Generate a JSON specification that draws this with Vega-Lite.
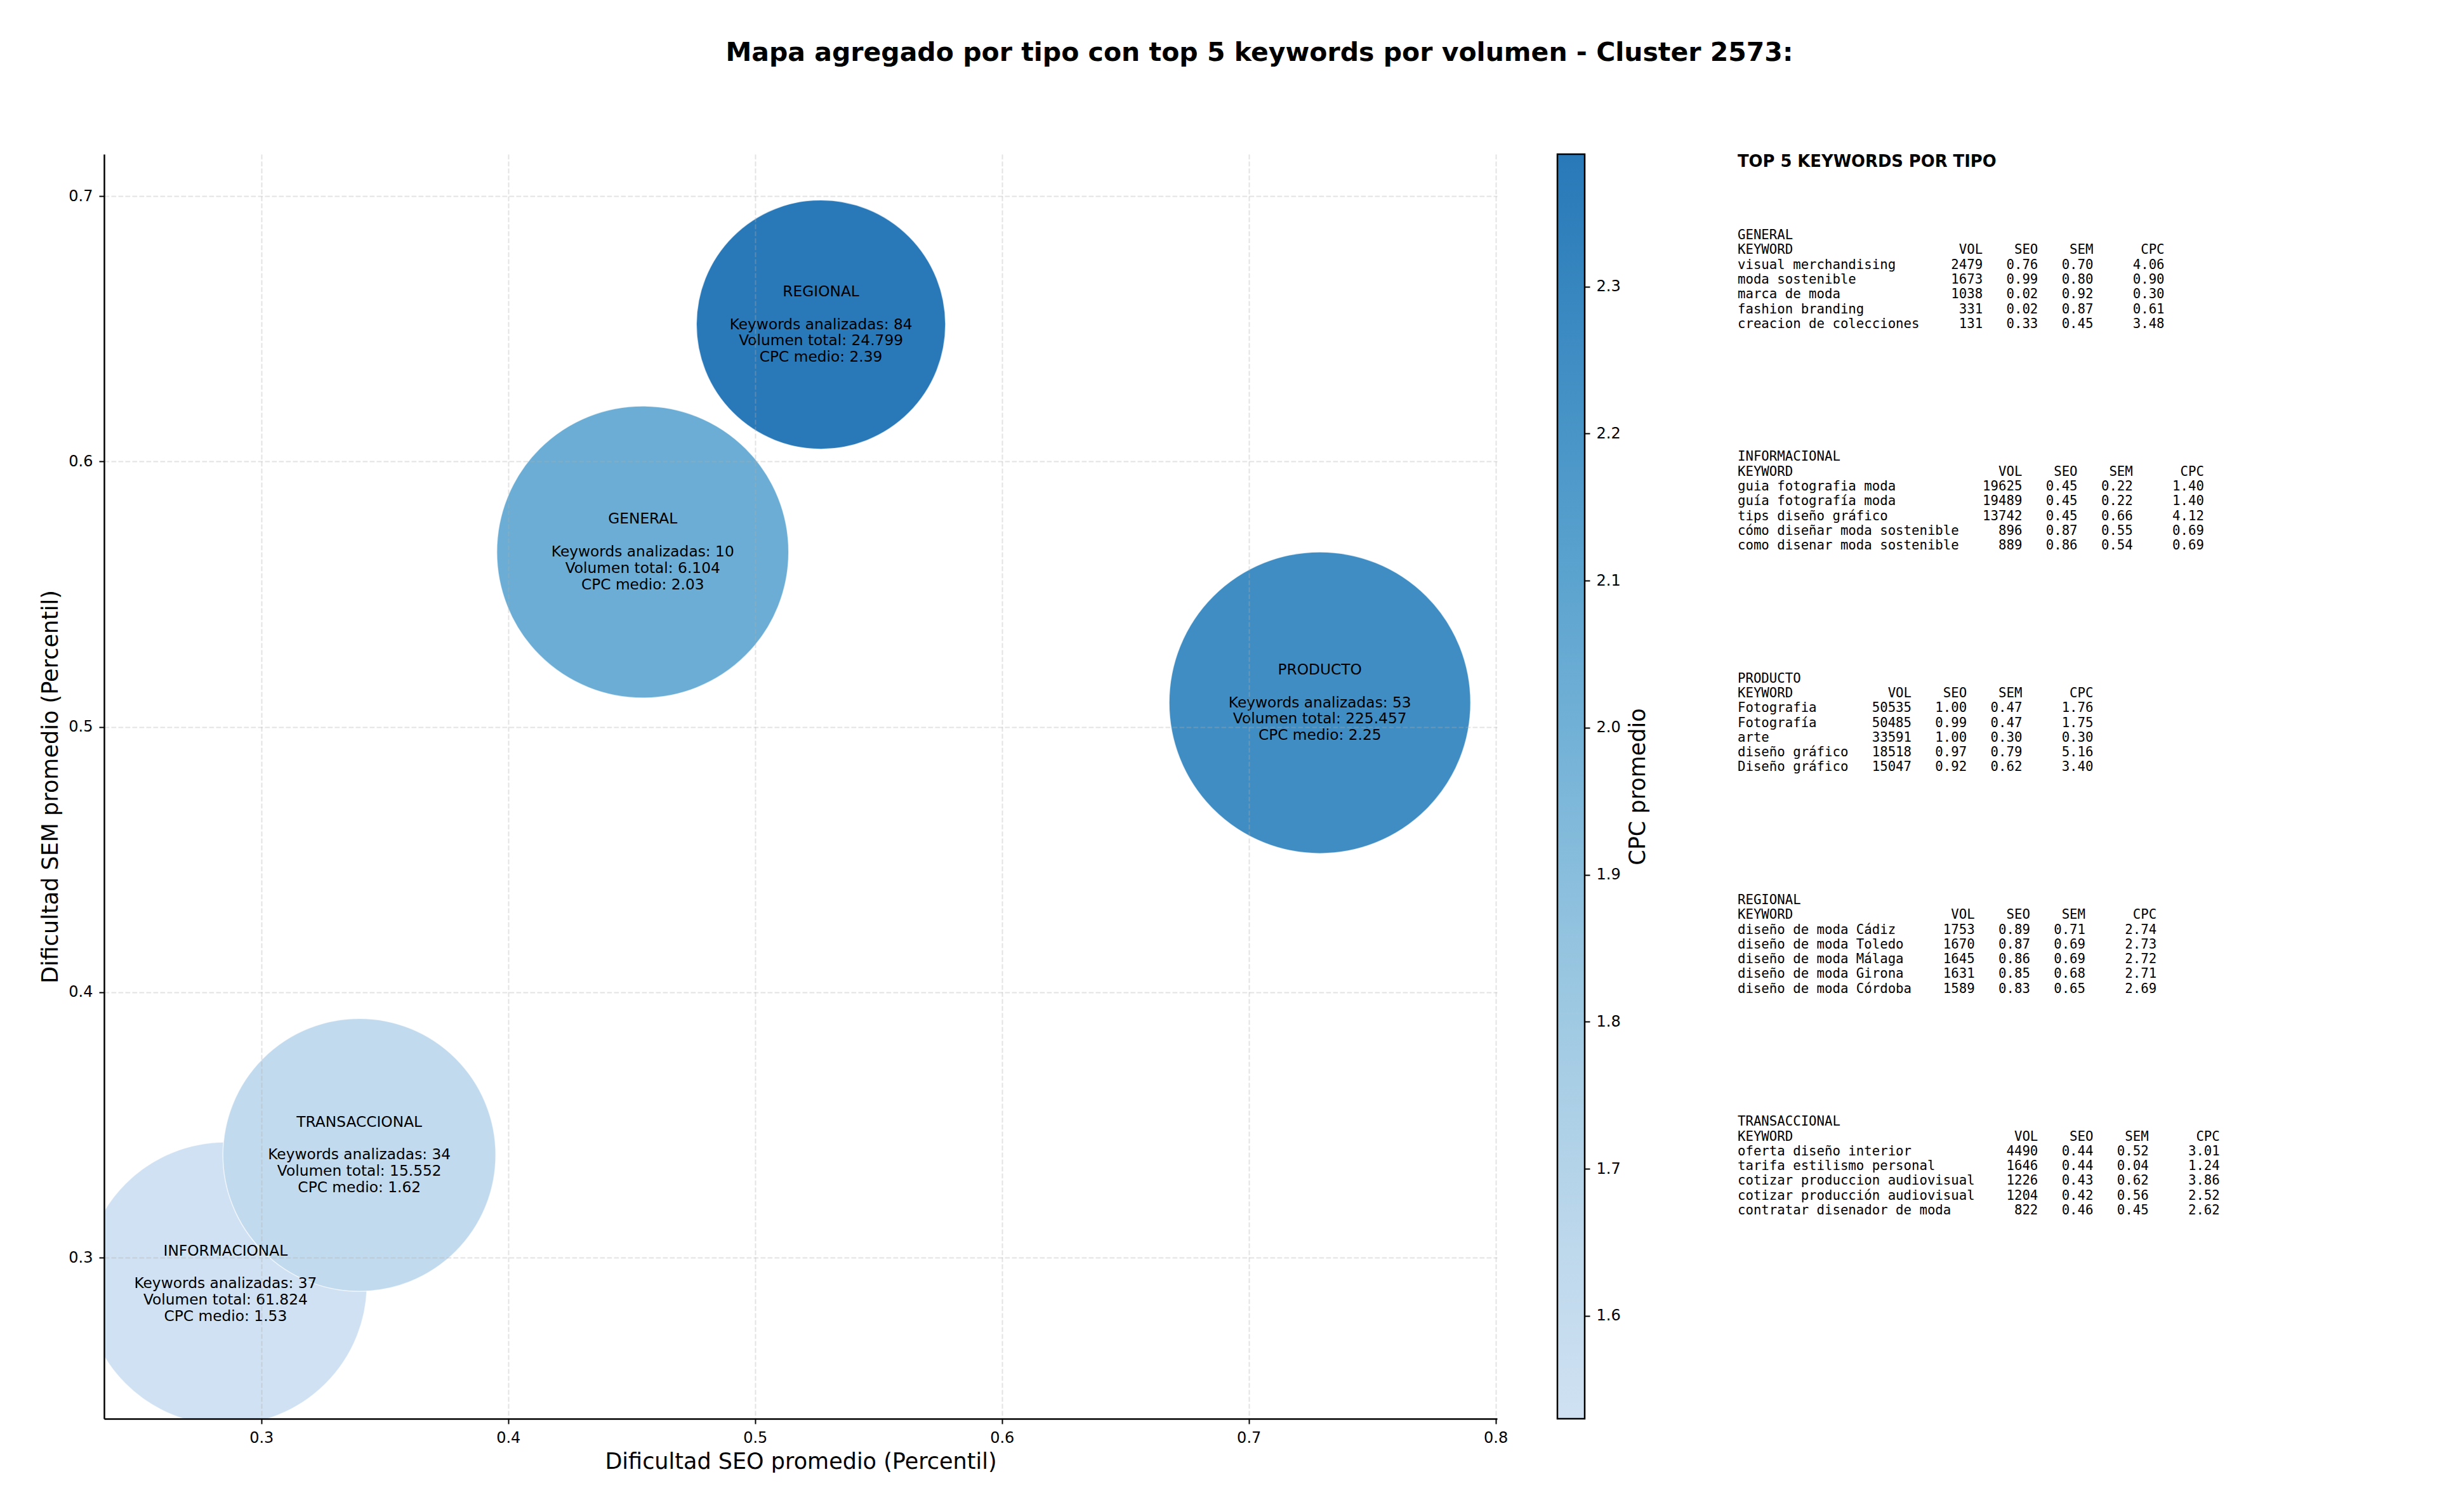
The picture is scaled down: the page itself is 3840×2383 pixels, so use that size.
{
  "$schema": "https://vega.github.io/schema/vega-lite/v6.json",
  "background": "white",
  "padding": {"left": 62, "top": 62, "right": 0, "bottom": 0},
  "config": {"view": {"stroke": null}, "font": "DejaVu Sans"},
  "title": {
    "text": "Mapa agregado por tipo con top 5 keywords por volumen - Cluster 2573:",
    "font": "DejaVu Sans", "fontSize": 41, "fontWeight": "bold", "color": "black",
    "anchor": "middle", "offset": 137, "dx": 184
  },
  "datasets": {
    "tipos": [
      {"tipo": "GENERAL", "seo": 0.4545, "sem": 0.5659, "cpc": 2.03, "keywords": 10, "volumen": 6104},
      {"tipo": "INFORMACIONAL", "seo": 0.2855, "sem": 0.2902, "cpc": 1.53, "keywords": 37, "volumen": 61824},
      {"tipo": "PRODUCTO", "seo": 0.7288, "sem": 0.5091, "cpc": 2.25, "keywords": 53, "volumen": 225457},
      {"tipo": "REGIONAL", "seo": 0.5267, "sem": 0.6516, "cpc": 2.39, "keywords": 84, "volumen": 24799},
      {"tipo": "TRANSACCIONAL", "seo": 0.3397, "sem": 0.3387, "cpc": 1.62, "keywords": 34, "volumen": 15552}
    ],
    "top5": [
      {"tipo": "GENERAL", "rank": 1, "keyword": "visual merchandising", "vol": 2479, "seo": 0.76, "sem": 0.70, "cpc": 4.06},
      {"tipo": "GENERAL", "rank": 2, "keyword": "moda sostenible", "vol": 1673, "seo": 0.99, "sem": 0.80, "cpc": 0.90},
      {"tipo": "GENERAL", "rank": 3, "keyword": "marca de moda", "vol": 1038, "seo": 0.02, "sem": 0.92, "cpc": 0.30},
      {"tipo": "GENERAL", "rank": 4, "keyword": "fashion branding", "vol": 331, "seo": 0.02, "sem": 0.87, "cpc": 0.61},
      {"tipo": "GENERAL", "rank": 5, "keyword": "creacion de colecciones", "vol": 131, "seo": 0.33, "sem": 0.45, "cpc": 3.48},
      {"tipo": "INFORMACIONAL", "rank": 1, "keyword": "guia fotografia moda", "vol": 19625, "seo": 0.45, "sem": 0.22, "cpc": 1.40},
      {"tipo": "INFORMACIONAL", "rank": 2, "keyword": "guía fotografía moda", "vol": 19489, "seo": 0.45, "sem": 0.22, "cpc": 1.40},
      {"tipo": "INFORMACIONAL", "rank": 3, "keyword": "tips diseño gráfico", "vol": 13742, "seo": 0.45, "sem": 0.66, "cpc": 4.12},
      {"tipo": "INFORMACIONAL", "rank": 4, "keyword": "cómo diseñar moda sostenible", "vol": 896, "seo": 0.87, "sem": 0.55, "cpc": 0.69},
      {"tipo": "INFORMACIONAL", "rank": 5, "keyword": "como disenar moda sostenible", "vol": 889, "seo": 0.86, "sem": 0.54, "cpc": 0.69},
      {"tipo": "PRODUCTO", "rank": 1, "keyword": "Fotografia", "vol": 50535, "seo": 1.00, "sem": 0.47, "cpc": 1.76},
      {"tipo": "PRODUCTO", "rank": 2, "keyword": "Fotografía", "vol": 50485, "seo": 0.99, "sem": 0.47, "cpc": 1.75},
      {"tipo": "PRODUCTO", "rank": 3, "keyword": "arte", "vol": 33591, "seo": 1.00, "sem": 0.30, "cpc": 0.30},
      {"tipo": "PRODUCTO", "rank": 4, "keyword": "diseño gráfico", "vol": 18518, "seo": 0.97, "sem": 0.79, "cpc": 5.16},
      {"tipo": "PRODUCTO", "rank": 5, "keyword": "Diseño gráfico", "vol": 15047, "seo": 0.92, "sem": 0.62, "cpc": 3.40},
      {"tipo": "REGIONAL", "rank": 1, "keyword": "diseño de moda Cádiz", "vol": 1753, "seo": 0.89, "sem": 0.71, "cpc": 2.74},
      {"tipo": "REGIONAL", "rank": 2, "keyword": "diseño de moda Toledo", "vol": 1670, "seo": 0.87, "sem": 0.69, "cpc": 2.73},
      {"tipo": "REGIONAL", "rank": 3, "keyword": "diseño de moda Málaga", "vol": 1645, "seo": 0.86, "sem": 0.69, "cpc": 2.72},
      {"tipo": "REGIONAL", "rank": 4, "keyword": "diseño de moda Girona", "vol": 1631, "seo": 0.85, "sem": 0.68, "cpc": 2.71},
      {"tipo": "REGIONAL", "rank": 5, "keyword": "diseño de moda Córdoba", "vol": 1589, "seo": 0.83, "sem": 0.65, "cpc": 2.69},
      {"tipo": "TRANSACCIONAL", "rank": 1, "keyword": "oferta diseño interior", "vol": 4490, "seo": 0.44, "sem": 0.52, "cpc": 3.01},
      {"tipo": "TRANSACCIONAL", "rank": 2, "keyword": "tarifa estilismo personal", "vol": 1646, "seo": 0.44, "sem": 0.04, "cpc": 1.24},
      {"tipo": "TRANSACCIONAL", "rank": 3, "keyword": "cotizar produccion audiovisual", "vol": 1226, "seo": 0.43, "sem": 0.62, "cpc": 3.86},
      {"tipo": "TRANSACCIONAL", "rank": 4, "keyword": "cotizar producción audiovisual", "vol": 1204, "seo": 0.42, "sem": 0.56, "cpc": 2.52},
      {"tipo": "TRANSACCIONAL", "rank": 5, "keyword": "contratar disenador de moda", "vol": 822, "seo": 0.46, "sem": 0.45, "cpc": 2.62}
    ]
  },
  "spacing": 139,
  "hconcat": [
    {
      "spacing": 76,
      "hconcat": [
        {
          "width": 2195,
          "height": 1993,
          "data": {"name": "tipos"},
          "transform": [
            {"calculate": "'Keywords analizadas: ' + datum.keywords + '\\nVolumen total: ' + replace(format(datum.volumen, ','), ',', '.') + '\\nCPC medio: ' + format(datum.cpc, '.2f')", "as": "etiqueta"}
          ],
          "encoding": {
            "x": {
              "field": "seo", "type": "quantitative",
              "scale": {"domain": [0.2363, 0.8006], "nice": false, "zero": false},
              "axis": {
                "title": "Dificultad SEO promedio (Percentil)", "values": [0.3, 0.4, 0.5, 0.6, 0.7, 0.8], "format": ".1f",
                "labelFontSize": 24, "labelColor": "black", "labelPadding": 10, "labelFont": "DejaVu Sans",
                "titleFontSize": 35, "titleFontWeight": "normal", "titleColor": "black", "titlePadding": 8, "titleFont": "DejaVu Sans",
                "domainColor": "black", "domainWidth": 2.5, "tickColor": "black", "tickWidth": 2, "tickSize": 8,
                "grid": true, "gridColor": "#b0b0b0", "gridOpacity": 0.35, "gridDash": [7.7, 3.3], "gridWidth": 2, "zindex": 1
              }
            },
            "y": {
              "field": "sem", "type": "quantitative",
              "scale": {"domain": [0.2393, 0.7158], "nice": false, "zero": false},
              "axis": {
                "title": "Dificultad SEM promedio (Percentil)", "values": [0.3, 0.4, 0.5, 0.6, 0.7], "format": ".1f",
                "labelFontSize": 24, "labelColor": "black", "labelPadding": 10, "labelFont": "DejaVu Sans",
                "titleFontSize": 35, "titleFontWeight": "normal", "titleColor": "black", "titlePadding": 10, "titleFont": "DejaVu Sans",
                "domainColor": "black", "domainWidth": 2.5, "tickColor": "black", "tickWidth": 2, "tickSize": 8,
                "grid": true, "gridColor": "#b0b0b0", "gridOpacity": 0.35, "gridDash": [7.7, 3.3], "gridWidth": 2, "zindex": 1
              }
            }
          },
          "layer": [
            {
              "mark": {"type": "point", "shape": "circle", "filled": true, "opacity": 1, "stroke": "white", "strokeWidth": 1.5, "strokeOpacity": 0.7, "clip": true},
              "encoding": {
                "color": {
                  "field": "cpc", "type": "quantitative",
                  "scale": {"domain": [1.53, 2.39], "nice": false, "zero": false, "scheme": {"name": "blues", "extent": [0, 0.75]}},
                  "legend": null
                },
                "size": {
                  "field": "tipo", "type": "nominal",
                  "scale": {"type": "ordinal", "domain": ["GENERAL", "INFORMACIONAL", "PRODUCTO", "REGIONAL", "TRANSACCIONAL"], "range": [211600, 198916, 225815, 154135, 184900]},
                  "legend": null
                }
              }
            },
            {
              "mark": {"type": "text", "font": "DejaVu Sans", "fontSize": 23.3, "align": "center", "baseline": "middle", "dy": -51.6, "color": "black"},
              "encoding": {"text": {"field": "tipo", "type": "nominal"}}
            },
            {
              "mark": {"type": "text", "font": "DejaVu Sans", "fontSize": 23.3, "lineHeight": 25.8, "lineBreak": "\n", "align": "center", "baseline": "middle", "color": "black"},
              "encoding": {"text": {"field": "etiqueta", "type": "nominal"}}
            }
          ]
        },
        {
          "width": 43,
          "height": 1993,
          "data": {"name": "tipos"},
          "mark": {
            "type": "rect", "stroke": "black", "strokeWidth": 2.5,
            "fill": {"gradient": "linear", "x1": 0, "y1": 1, "x2": 0, "y2": 0, "stops": [
              {"offset": 0, "color": "#cfe1f2"},
              {"offset": 0.1333, "color": "#bed8ec"},
              {"offset": 0.2667, "color": "#a8cee5"},
              {"offset": 0.4, "color": "#8fc1de"},
              {"offset": 0.5333, "color": "#74b2d7"},
              {"offset": 0.6667, "color": "#5ba3cf"},
              {"offset": 0.8, "color": "#4592c6"},
              {"offset": 0.9333, "color": "#3181bd"},
              {"offset": 1, "color": "#2978b8"}
            ]}
          },
          "encoding": {
            "x": {"datum": 0, "type": "quantitative", "scale": {"domain": [0, 1], "nice": false, "zero": false}, "axis": null},
            "x2": {"datum": 1},
            "y": {
              "aggregate": "min", "field": "cpc", "type": "quantitative",
              "scale": {"domain": [1.53, 2.39], "nice": false, "zero": false},
              "axis": {
                "orient": "right", "title": "CPC promedio", "values": [1.6, 1.7, 1.8, 1.9, 2.0, 2.1, 2.2, 2.3], "format": ".1f",
                "labelFontSize": 24, "labelColor": "black", "labelPadding": 10, "labelFont": "DejaVu Sans",
                "tickColor": "black", "tickWidth": 2, "tickSize": 8, "domain": false, "grid": false,
                "titleFontSize": 35, "titleFontWeight": "normal", "titleColor": "black", "titleFont": "DejaVu Sans",
                "titleAngle": 270, "titleBaseline": "top", "titlePadding": 10
              }
            },
            "y2": {"aggregate": "max", "field": "cpc"}
          }
        }
      ]
    },
    {
      "width": 800,
      "height": 1746.5,
      "data": {"name": "top5"},
      "transform": [
        {"calculate": "length(datum.keyword)", "as": "len"},
        {"joinaggregate": [{"op": "max", "field": "len", "as": "maxlen"}], "groupby": ["tipo"]},
        {"calculate": "pad(datum.keyword, datum.maxlen, '\u00a0') + pad(format(datum.vol, 'd'), 8, '\u00a0', 'left') + pad(format(datum.seo, '.2f'), 7, '\u00a0', 'left') + pad(format(datum.sem, '.2f'), 7, '\u00a0', 'left') + pad(format(datum.cpc, '.2f'), 9, '\u00a0', 'left')", "as": "linea"},
        {"calculate": "pad('KEYWORD', datum.maxlen, '\u00a0') + pad('VOL', 8, '\u00a0', 'left') + pad('SEO', 7, '\u00a0', 'left') + pad('SEM', 7, '\u00a0', 'left') + pad('CPC', 9, '\u00a0', 'left')", "as": "cabecera"}
      ],
      "encoding": {
        "x": {"datum": 0, "type": "quantitative", "scale": {"domain": [0, 1], "nice": false, "zero": false}, "axis": null},
        "y": {"field": "tipo", "type": "nominal", "scale": {"type": "band", "domain": ["GENERAL", "INFORMACIONAL", "PRODUCTO", "REGIONAL", "TRANSACCIONAL"], "paddingInner": 0, "paddingOuter": 0}, "axis": null}
      },
      "layer": [
        {
          "transform": [{"filter": "datum.tipo == 'GENERAL' && datum.rank == 1"}],
          "mark": {"type": "text", "text": "TOP 5 KEYWORDS POR TIPO", "font": "DejaVu Sans", "fontWeight": "bold", "fontSize": 25.8, "align": "left", "baseline": "middle", "color": "black"},
          "encoding": {"yOffset": {"datum": -6, "type": "ordinal", "scale": {"type": "band", "domain": [-6, -5, -4, -3, -2, -1, 0, 1, 2, 3, 4, 5, 6, 7, 8], "paddingInner": 0, "paddingOuter": 0}}}
        },
        {
          "transform": [{"filter": "datum.rank == 1"}],
          "mark": {"type": "text", "font": "DejaVu Sans Mono", "fontSize": 20.7, "align": "left", "baseline": "middle", "color": "black"},
          "encoding": {
            "text": {"field": "tipo", "type": "nominal"},
            "yOffset": {"datum": -1, "type": "ordinal", "scale": {"type": "band", "domain": [-6, -5, -4, -3, -2, -1, 0, 1, 2, 3, 4, 5, 6, 7, 8], "paddingInner": 0, "paddingOuter": 0}}
          }
        },
        {
          "transform": [{"filter": "datum.rank == 1"}],
          "mark": {"type": "text", "font": "DejaVu Sans Mono", "fontSize": 20.7, "align": "left", "baseline": "middle", "color": "black"},
          "encoding": {
            "text": {"field": "cabecera", "type": "nominal"},
            "yOffset": {"datum": 0, "type": "ordinal", "scale": {"type": "band", "domain": [-6, -5, -4, -3, -2, -1, 0, 1, 2, 3, 4, 5, 6, 7, 8], "paddingInner": 0, "paddingOuter": 0}}
          }
        },
        {
          "mark": {"type": "text", "font": "DejaVu Sans Mono", "fontSize": 20.7, "align": "left", "baseline": "middle", "color": "black"},
          "encoding": {
            "text": {"field": "linea", "type": "nominal"},
            "yOffset": {"field": "rank", "type": "ordinal", "scale": {"type": "band", "domain": [-6, -5, -4, -3, -2, -1, 0, 1, 2, 3, 4, 5, 6, 7, 8], "paddingInner": 0, "paddingOuter": 0}}
          }
        }
      ]
    }
  ]
}
